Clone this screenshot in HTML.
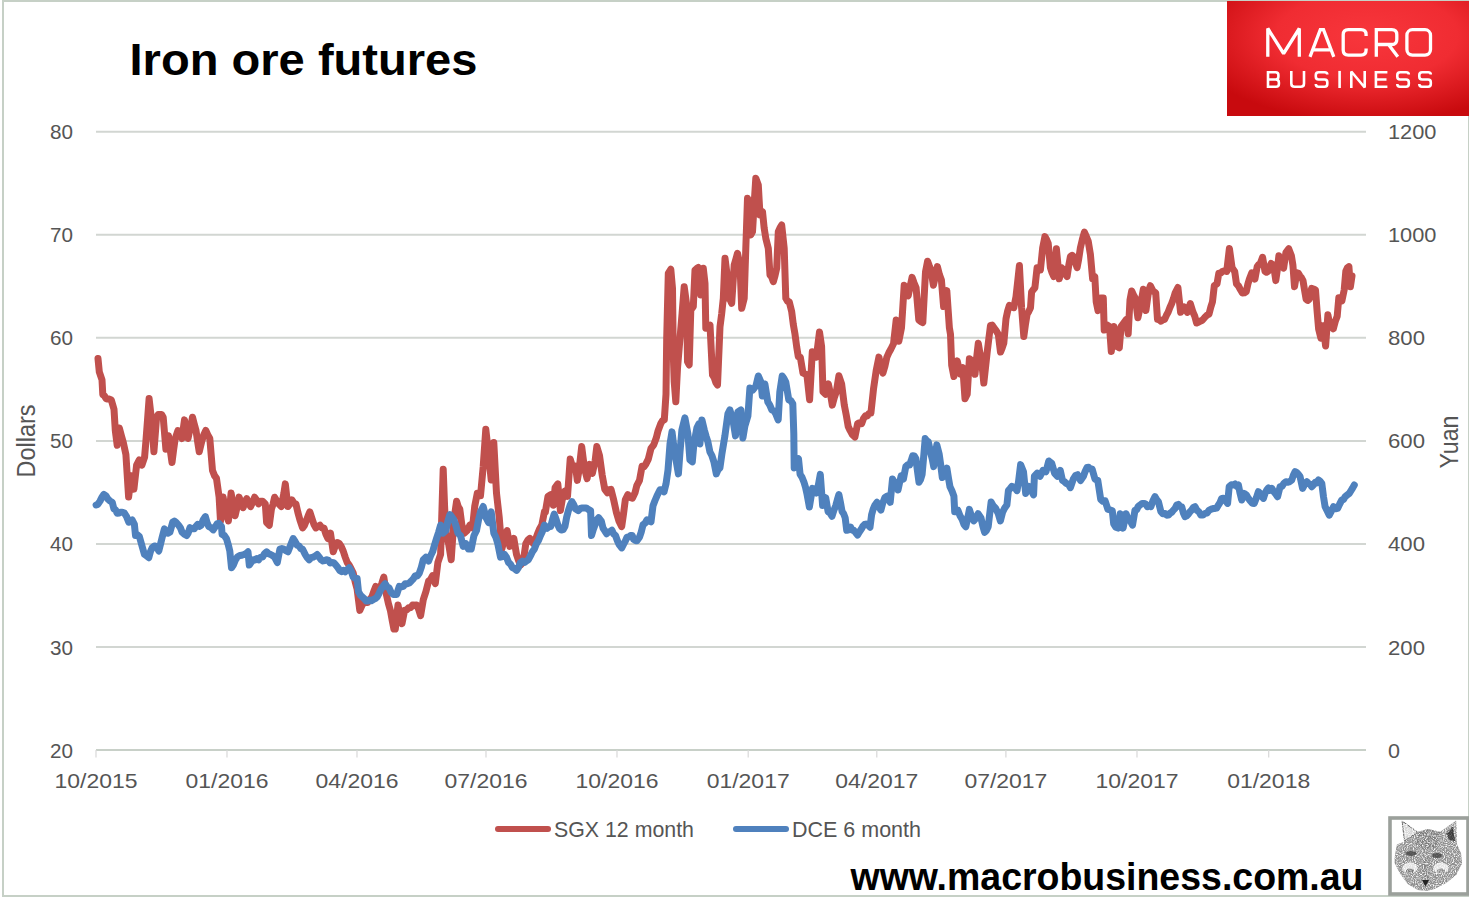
<!DOCTYPE html>
<html><head><meta charset="utf-8"><style>
html,body{margin:0;padding:0;background:#fff;width:1469px;height:901px;overflow:hidden;position:relative}
svg text{font-family:"Liberation Sans",sans-serif}
</style></head><body>
<svg width="1469" height="901" viewBox="0 0 1469 901" style="position:absolute;left:0;top:0">
<defs><radialGradient id="rg" cx="58%" cy="30%" r="75%"><stop offset="0" stop-color="#f8363c"/><stop offset="0.5" stop-color="#f02c32"/><stop offset="1" stop-color="#c80a0e"/></radialGradient></defs>
<rect x="3" y="1" width="1466" height="895" fill="none" stroke="#c6d0c6" stroke-width="2"/>
<line x1="96" y1="131.75" x2="1366" y2="131.75" stroke="#d2d6d2" stroke-width="2"/>
<line x1="96" y1="234.80" x2="1366" y2="234.80" stroke="#d2d6d2" stroke-width="2"/>
<line x1="96" y1="337.85" x2="1366" y2="337.85" stroke="#d2d6d2" stroke-width="2"/>
<line x1="96" y1="440.90" x2="1366" y2="440.90" stroke="#d2d6d2" stroke-width="2"/>
<line x1="96" y1="543.95" x2="1366" y2="543.95" stroke="#d2d6d2" stroke-width="2"/>
<line x1="96" y1="647.00" x2="1366" y2="647.00" stroke="#d2d6d2" stroke-width="2"/>
<line x1="96" y1="750" x2="1366" y2="750" stroke="#c8d0c8" stroke-width="2.2"/>
<line x1="96" y1="750" x2="96" y2="757.5" stroke="#d8d8d8" stroke-width="1.2"/>
<text x="96" y="788" font-size="21" text-anchor="middle" textLength="83" lengthAdjust="spacingAndGlyphs" fill="#555555">10/2015</text>
<line x1="227" y1="750" x2="227" y2="757.5" stroke="#d8d8d8" stroke-width="1.2"/>
<text x="227" y="788" font-size="21" text-anchor="middle" textLength="83" lengthAdjust="spacingAndGlyphs" fill="#555555">01/2016</text>
<line x1="357" y1="750" x2="357" y2="757.5" stroke="#d8d8d8" stroke-width="1.2"/>
<text x="357" y="788" font-size="21" text-anchor="middle" textLength="83" lengthAdjust="spacingAndGlyphs" fill="#555555">04/2016</text>
<line x1="486" y1="750" x2="486" y2="757.5" stroke="#d8d8d8" stroke-width="1.2"/>
<text x="486" y="788" font-size="21" text-anchor="middle" textLength="83" lengthAdjust="spacingAndGlyphs" fill="#555555">07/2016</text>
<line x1="617" y1="750" x2="617" y2="757.5" stroke="#d8d8d8" stroke-width="1.2"/>
<text x="617" y="788" font-size="21" text-anchor="middle" textLength="83" lengthAdjust="spacingAndGlyphs" fill="#555555">10/2016</text>
<line x1="748.2" y1="750" x2="748.2" y2="757.5" stroke="#d8d8d8" stroke-width="1.2"/>
<text x="748.2" y="788" font-size="21" text-anchor="middle" textLength="83" lengthAdjust="spacingAndGlyphs" fill="#555555">01/2017</text>
<line x1="876.8" y1="750" x2="876.8" y2="757.5" stroke="#d8d8d8" stroke-width="1.2"/>
<text x="876.8" y="788" font-size="21" text-anchor="middle" textLength="83" lengthAdjust="spacingAndGlyphs" fill="#555555">04/2017</text>
<line x1="1005.9" y1="750" x2="1005.9" y2="757.5" stroke="#d8d8d8" stroke-width="1.2"/>
<text x="1005.9" y="788" font-size="21" text-anchor="middle" textLength="83" lengthAdjust="spacingAndGlyphs" fill="#555555">07/2017</text>
<line x1="1137" y1="750" x2="1137" y2="757.5" stroke="#d8d8d8" stroke-width="1.2"/>
<text x="1137" y="788" font-size="21" text-anchor="middle" textLength="83" lengthAdjust="spacingAndGlyphs" fill="#555555">10/2017</text>
<line x1="1268.7" y1="750" x2="1268.7" y2="757.5" stroke="#d8d8d8" stroke-width="1.2"/>
<text x="1268.7" y="788" font-size="21" text-anchor="middle" textLength="83" lengthAdjust="spacingAndGlyphs" fill="#555555">01/2018</text>
<text x="73" y="139.25" font-size="20.5" text-anchor="end" textLength="23" lengthAdjust="spacingAndGlyphs" fill="#555555">80</text>
<text x="73" y="242.30" font-size="20.5" text-anchor="end" textLength="23" lengthAdjust="spacingAndGlyphs" fill="#555555">70</text>
<text x="73" y="345.35" font-size="20.5" text-anchor="end" textLength="23" lengthAdjust="spacingAndGlyphs" fill="#555555">60</text>
<text x="73" y="448.40" font-size="20.5" text-anchor="end" textLength="23" lengthAdjust="spacingAndGlyphs" fill="#555555">50</text>
<text x="73" y="551.45" font-size="20.5" text-anchor="end" textLength="23" lengthAdjust="spacingAndGlyphs" fill="#555555">40</text>
<text x="73" y="654.50" font-size="20.5" text-anchor="end" textLength="23" lengthAdjust="spacingAndGlyphs" fill="#555555">30</text>
<text x="73" y="757.55" font-size="20.5" text-anchor="end" textLength="23" lengthAdjust="spacingAndGlyphs" fill="#555555">20</text>
<text x="1388" y="139.25" font-size="20.5" textLength="48.5" lengthAdjust="spacingAndGlyphs" fill="#555555">1200</text>
<text x="1388" y="242.30" font-size="20.5" textLength="48.5" lengthAdjust="spacingAndGlyphs" fill="#555555">1000</text>
<text x="1388" y="345.35" font-size="20.5" textLength="37" lengthAdjust="spacingAndGlyphs" fill="#555555">800</text>
<text x="1388" y="448.40" font-size="20.5" textLength="37" lengthAdjust="spacingAndGlyphs" fill="#555555">600</text>
<text x="1388" y="551.45" font-size="20.5" textLength="37" lengthAdjust="spacingAndGlyphs" fill="#555555">400</text>
<text x="1388" y="654.50" font-size="20.5" textLength="37" lengthAdjust="spacingAndGlyphs" fill="#555555">200</text>
<text x="1388" y="757.55" font-size="20.5" textLength="12" lengthAdjust="spacingAndGlyphs" fill="#555555">0</text>
<text transform="translate(34.6,441) rotate(-90)" font-size="25" text-anchor="middle" textLength="73" lengthAdjust="spacingAndGlyphs" fill="#555555">Dollars</text>
<text transform="translate(1457.8,442) rotate(-90)" font-size="25" text-anchor="middle" textLength="53" lengthAdjust="spacingAndGlyphs" fill="#555555">Yuan</text>
<text x="129.5" y="74.8" font-size="44.7" font-weight="bold" textLength="348" lengthAdjust="spacingAndGlyphs" fill="#000">Iron ore futures</text>
<line x1="498" y1="829" x2="548" y2="829" stroke="#c0504d" stroke-width="6" stroke-linecap="round"/>
<text x="554" y="836.6" font-size="22" textLength="140" lengthAdjust="spacingAndGlyphs" fill="#555555">SGX 12 month</text>
<line x1="736" y1="829" x2="786" y2="829" stroke="#4f81bd" stroke-width="6" stroke-linecap="round"/>
<text x="792" y="836.6" font-size="22" textLength="129" lengthAdjust="spacingAndGlyphs" fill="#555555">DCE 6 month</text>
<text x="850.5" y="889.6" font-size="38" font-weight="bold" textLength="513" lengthAdjust="spacingAndGlyphs" fill="#000">www.macrobusiness.com.au</text>
<rect x="1227" y="1" width="242" height="115" fill="url(#rg)"/>
<g fill="none" stroke="#fff" stroke-width="3.3" stroke-linejoin="miter" stroke-linecap="butt">
<path stroke-linejoin="bevel" d="M1267.8,56.8 V28.5 L1283.6,53.5 L1299.3,28.5 V56.8"/>
<path d="M1310,56.8 L1320.3,29.7 H1323.5 L1333.8,56.8 M1313.5,49.8 H1330.5"/>
<path d="M1366.1,36 V34.7 Q1366.1,29.7 1361,29.7 H1348.3 Q1343.2,29.7 1343.2,34.8 V50 Q1343.2,55.1 1348.3,55.1 H1361 Q1366.1,55.1 1366.1,50 V48.6"/>
<path d="M1376.3,56.8 V29.7 H1391.8 Q1396.8,29.7 1396.8,34.7 V39.5 Q1396.8,44.5 1391.8,44.5 H1376.3 M1388.5,44.5 L1397.8,56.8"/>
<rect x="1406.9" y="29.7" width="23.6" height="25.4" rx="5.5"/>
</g>
<g fill="none" stroke="#fff" stroke-width="2.6" stroke-linejoin="miter" stroke-linecap="butt">
<path d="M1268,88 V72.2 H1275.6 Q1278.4,72.2 1278.4,75 V76.8 Q1278.4,79.5 1275.6,79.5 H1268 M1275.6,79.5 Q1278.9,79.5 1278.9,82.4 V83.9 Q1278.9,86.7 1276,86.7 H1268"/>
<path d="M1291.3,70.9 V83.4 Q1291.3,86.7 1294.6,86.7 H1300.7 Q1304,86.7 1304,83.4 V70.9"/>
<g id="ss"><path d="M1327.3,74.6 Q1327.3,72.2 1324.6,72.2 H1318.6 Q1315.8,72.2 1315.8,75 V76.8 Q1315.8,79.5 1318.6,79.5 H1324.6 Q1327.3,79.5 1327.3,82.3 V84 Q1327.3,86.7 1324.6,86.7 H1318.4 Q1315.8,86.7 1315.8,84"/></g>
<path d="M1339.6,70.9 V88"/>
<path stroke-linejoin="bevel" d="M1351.3,88 V71.5 L1364.7,87.5 V70.9"/>
<path d="M1387.4,72.2 H1375.9 V86.7 H1387.4 M1375.9,79.5 H1386.5"/>
<use href="#ss" x="81.5"/><use href="#ss" x="103.5"/>
</g>
<rect x="1390" y="818" width="78" height="76" fill="#fff" stroke="#9ba09b" stroke-width="3.6"/>
<defs><filter id="fn" x="0" y="0" width="1" height="1"><feTurbulence type="fractalNoise" baseFrequency="0.9" numOctaves="1" seed="4" result="n"/><feColorMatrix in="n" type="matrix" values="0 0 0 0 0  0 0 0 0 0  0 0 0 0 0  0 0 0 -3 2.25" result="m"/><feComposite in="SourceGraphic" in2="m" operator="in"/></filter></defs>
<g filter="url(#fn)">
<path d="M1396.9,844.6 L1393.9,861.4 L1399.8,873.3 L1407.7,884.1 L1417.6,890.1 L1426.5,891 L1434.4,889.1 L1446.3,883.1 L1456.1,875.2 L1462.1,863.4 L1461.1,853.5 L1457.1,844.6 L1456.1,820.4 L1440.3,831.8 L1428,829 L1417.6,831.8 L1401.8,820.4 L1404.8,841.6 Z" fill="#8e8e8e"/>
<path d="M1402,821 L1404.5,841 L1417.5,832 Z" fill="#d6d6d6" stroke="#666" stroke-width="1"/>
<path d="M1456,821 L1441,832 L1446,840 L1457,844 Z" fill="#9a9a9a"/>
<path d="M1453,826 L1446,833 L1449,840 L1455,842 Z" fill="#4a4a4a"/>
<path d="M1418,832 L1428,829 L1440,832 L1436,848 L1426,850 L1416,846 Z" fill="#7e7e7e"/>
<path d="M1421,858 L1431,858 L1429,878 L1423,878 Z" fill="#848484"/>
<ellipse cx="1410" cy="868" rx="7.5" ry="5.5" fill="#e2e2e2"/>
<ellipse cx="1441" cy="868" rx="7.5" ry="5.5" fill="#e2e2e2"/>
<ellipse cx="1410" cy="871" rx="4" ry="2.5" fill="#777"/>
<ellipse cx="1441" cy="871" rx="4" ry="2.5" fill="#888"/>
</g>
<ellipse cx="1411" cy="853.5" rx="5.5" ry="2.5" fill="#444" opacity="0.8"/>
<ellipse cx="1437" cy="855.5" rx="5" ry="2.5" fill="#444" opacity="0.8"/>
<path d="M1422,880 L1429,880 L1425.5,886.5 Z" fill="#222"/>
<path d="M1453,828 L1447,834 L1450,840 L1455,841 Z" fill="#333" opacity="0.7"/>
<path d="M98.0,358.6 L99.3,371.9 L102.0,379.9 L102.8,394.6 L104.4,395.8 L106.0,398.6 L107.7,399.1 L109.5,399.1 L111.3,399.9 L114.0,409.2 L115.3,430.5 L117.2,445.2 L119.3,427.9 L121.3,435.5 L123.3,442.5 L125.9,454.5 L128.6,497.1 L131.3,475.8 L133.9,489.1 L136.6,465.1 L139.3,459.8 L141.9,465.1 L144.6,457.1 L145.9,441.2 L147.5,420.2 L149.1,398.6 L151.8,422.5 L153.9,451.8 L156.6,417.2 L158.2,414.6 L159.8,414.5 L161.5,414.4 L163.2,417.2 L165.9,449.2 L168.5,435.8 L170.3,450.2 L172.0,462.5 L173.6,449.8 L175.2,438.5 L177.9,430.5 L179.9,433.7 L181.9,438.5 L184.5,419.9 L186.2,430.7 L188.0,438.5 L189.5,431.3 L191.0,425.3 L192.5,417.2 L194.2,423.8 L196.0,430.5 L197.6,441.6 L199.2,451.8 L201.8,441.2 L203.8,434.8 L205.8,430.5 L207.8,434.9 L209.8,438.5 L212.5,470.5 L214.5,475.6 L216.5,478.4 L219.1,497.1 L220.5,521.0 L223.1,497.1 L225.8,513.1 L228.4,521.0 L231.1,493.1 L233.1,504.5 L235.1,515.7 L237.1,507.1 L239.1,497.1 L241.1,502.9 L243.1,507.7 L244.9,501.8 L246.7,498.6 L248.7,503.3 L250.6,506.6 L252.6,502.2 L254.6,497.2 L256.6,500.0 L258.6,503.9 L260.6,501.2 L262.6,501.2 L265.3,503.9 L266.6,522.5 L269.3,525.2 L271.4,509.2 L273.0,504.3 L274.6,497.2 L276.6,500.5 L278.6,503.9 L281.3,506.6 L283.9,493.2 L285.3,483.9 L287.9,506.6 L289.9,503.9 L291.9,499.9 L293.9,503.0 L295.9,503.9 L297.9,512.5 L299.9,519.9 L302.6,527.9 L304.6,525.1 L306.6,519.9 L308.2,515.6 L309.8,511.9 L312.4,519.9 L314.1,524.8 L315.9,527.9 L317.9,526.4 L319.9,525.2 L321.9,527.8 L323.9,527.9 L325.9,534.3 L327.9,538.5 L330.5,533.2 L333.2,551.8 L335.2,546.0 L337.2,542.5 L339.2,543.4 L341.2,546.5 L343.2,551.0 L345.2,557.1 L347.2,562.5 L349.2,565.1 L351.2,568.9 L353.2,573.1 L355.1,581.5 L357.1,589.1 L359.8,610.4 L361.8,605.8 L363.8,602.4 L365.8,602.4 L367.8,602.4 L369.8,599.4 L371.8,597.1 L373.8,591.3 L375.8,586.4 L377.8,588.0 L379.8,589.1 L381.8,583.4 L383.8,577.1 L386.4,594.4 L388.4,603.6 L390.4,610.4 L392.2,620.3 L393.9,629.0 L395.3,629.0 L398.0,605.0 L400.0,615.6 L402.0,623.6 L404.6,610.3 L406.6,610.1 L408.6,607.7 L410.6,607.8 L412.6,605.0 L414.6,605.5 L416.6,605.0 L418.6,609.3 L420.6,615.7 L423.3,599.7 L425.9,591.7 L428.6,581.0 L430.6,579.5 L432.6,575.7 L435.3,583.7 L437.9,562.4 L440.6,554.4 L443.2,469.2 L444.6,506.5 L445.9,533.1 L448.6,543.8 L451.2,559.7 L453.9,519.8 L456.6,501.2 L458.2,506.6 L459.8,509.2 L461.9,525.1 L464.5,533.1 L467.2,530.5 L469.9,525.1 L472.5,527.8 L474.7,506.5 L477.3,493.2 L478.9,495.7 L480.5,495.8 L483.2,466.6 L485.8,429.3 L488.5,453.2 L491.2,479.9 L493.8,442.6 L496.5,493.2 L499.2,517.1 L501.8,549.1 L504.5,538.4 L507.1,530.5 L509.8,546.4 L511.8,542.6 L513.8,538.4 L516.5,554.4 L518.5,560.4 L520.5,565.1 L523.1,562.4 L525.8,543.8 L527.8,540.2 L529.8,538.4 L531.8,542.1 L533.8,543.8 L535.8,538.7 L537.8,533.1 L539.8,528.5 L541.8,525.1 L544.4,511.8 L545.3,512.4 L548.0,496.4 L550.7,494.6 L553.3,505.3 L555.1,487.5 L557.8,483.9 L560.4,510.6 L562.2,499.9 L564.9,491.0 L567.5,496.4 L570.2,459.1 L572.9,468.0 L575.5,466.2 L577.3,480.4 L579.1,469.7 L581.7,446.6 L584.4,468.0 L587.1,478.6 L589.7,464.4 L592.4,473.3 L595.1,460.9 L596.8,446.6 L599.5,455.5 L602.2,475.1 L604.8,489.3 L607.5,492.8 L609.3,489.7 L611.0,489.3 L613.7,499.9 L616.4,512.4 L619.0,521.2 L621.7,526.6 L623.5,514.1 L625.3,499.9 L627.9,494.6 L630.1,497.4 L632.4,498.2 L635.0,492.8 L636.8,485.7 L639.5,480.4 L642.1,466.2 L643.9,466.8 L645.7,464.4 L648.3,459.1 L651.0,448.4 L653.7,444.9 L656.3,437.8 L658.1,430.7 L660.8,423.6 L662.6,420.5 L664.3,420.0 L666.0,394.3 L666.7,338.3 L668.3,273.3 L670.8,269.2 L672.5,288.3 L673.3,355.0 L674.2,381.7 L675.8,401.7 L677.5,368.3 L680.0,338.3 L682.1,313.4 L684.2,286.7 L686.7,305.0 L687.5,361.7 L689.2,365.0 L690.8,310.0 L693.3,306.7 L695.0,270.0 L696.7,268.5 L698.3,267.5 L700.8,295.0 L703.3,268.3 L705.0,283.3 L705.8,328.3 L707.9,325.6 L710.0,325.0 L712.5,375.0 L714.2,377.7 L715.8,382.5 L717.5,385.0 L720.0,326.7 L721.7,313.6 L723.3,298.3 L725.0,258.3 L726.7,271.7 L728.3,298.3 L730.0,299.5 L731.7,303.3 L734.2,265.0 L735.8,259.5 L737.5,253.3 L740.0,265.0 L741.7,308.3 L744.2,298.3 L745.8,248.3 L747.5,198.3 L749.2,201.7 L750.8,235.0 L752.5,231.7 L754.2,203.3 L755.8,178.3 L758.3,185.0 L760.0,215.0 L762.5,211.7 L764.2,228.3 L765.8,238.3 L768.3,248.3 L770.0,275.0 L771.7,277.0 L773.3,281.7 L775.0,275.7 L776.7,268.3 L778.3,231.7 L780.0,227.8 L781.7,225.0 L784.2,248.3 L785.8,298.3 L787.5,301.1 L789.2,301.7 L791.7,311.7 L793.3,324.4 L795.0,334.2 L796.7,346.9 L798.3,356.7 L800.3,357.1 L803.0,373.1 L805.0,373.9 L807.0,375.8 L809.6,399.7 L812.3,351.8 L814.3,353.2 L816.3,357.1 L817.9,344.8 L819.5,331.9 L821.6,346.5 L823.0,391.8 L825.6,394.4 L828.3,383.8 L830.3,393.0 L832.3,405.1 L834.3,397.5 L836.3,391.8 L838.9,375.8 L841.6,383.8 L844.3,405.1 L846.3,415.4 L848.2,426.4 L850.2,430.7 L852.2,434.4 L854.9,437.0 L857.6,423.7 L859.6,422.7 L861.6,423.7 L863.6,418.3 L865.6,415.7 L867.3,415.9 L869.1,413.4 L870.9,413.1 L873.5,389.1 L876.2,370.5 L878.9,357.1 L880.9,366.5 L882.9,373.1 L884.9,366.3 L886.9,357.1 L888.8,352.8 L890.8,349.2 L893.5,343.8 L896.2,319.9 L898.8,341.2 L901.5,327.9 L904.2,285.3 L906.2,290.5 L908.2,295.9 L910.1,286.7 L912.1,277.3 L914.1,283.0 L916.1,287.9 L918.8,319.9 L920.8,321.5 L922.8,322.5 L925.5,271.9 L927.6,261.3 L929.2,265.5 L930.8,269.3 L933.4,285.3 L935.4,276.3 L937.4,266.6 L939.4,274.6 L941.4,279.9 L943.6,306.6 L945.2,298.6 L946.8,290.6 L949.4,327.9 L950.5,334.3 L951.7,365.4 L953.9,376.5 L955.5,368.5 L957.2,360.9 L958.9,368.3 L960.5,374.3 L962.8,367.6 L965.0,398.7 L967.2,394.2 L969.4,358.7 L971.1,360.2 L972.7,363.2 L975.0,374.3 L976.6,358.1 L978.3,343.2 L980.0,353.5 L981.6,360.9 L983.8,383.1 L985.5,367.7 L987.2,352.1 L988.8,338.9 L990.5,325.4 L992.2,325.1 L993.8,327.6 L996.1,330.7 L998.3,334.3 L1000.5,352.1 L1002.2,347.9 L1003.8,343.2 L1006.0,318.8 L1007.7,310.7 L1009.4,305.4 L1011.6,306.9 L1013.8,307.7 L1016.0,296.6 L1017.7,281.4 L1019.4,265.5 L1021.6,307.7 L1023.8,336.5 L1025.5,324.1 L1027.1,314.3 L1028.8,311.4 L1030.5,307.7 L1031.6,292.1 L1033.2,289.8 L1034.9,287.7 L1037.1,267.7 L1038.8,269.4 L1040.4,269.9 L1042.7,247.7 L1044.9,236.6 L1046.6,239.5 L1048.2,243.3 L1050.4,267.7 L1052.1,272.8 L1053.8,276.6 L1056.4,248.8 L1059.3,278.8 L1061.5,267.7 L1063.8,269.9 L1065.4,274.0 L1067.1,276.6 L1068.8,265.2 L1070.4,256.6 L1072.1,255.3 L1073.7,256.6 L1075.4,262.7 L1077.1,267.7 L1078.7,259.1 L1080.4,247.7 L1082.4,239.2 L1084.4,232.2 L1086.3,236.5 L1088.2,241.1 L1090.4,254.4 L1092.6,278.8 L1094.8,276.6 L1096.2,301.7 L1098.0,310.6 L1100.7,298.1 L1103.3,298.1 L1104.2,330.1 L1106.9,324.8 L1109.5,326.6 L1111.3,351.4 L1114.0,326.6 L1116.6,346.1 L1119.3,347.9 L1121.1,326.6 L1123.7,323.0 L1126.4,319.4 L1128.2,333.7 L1130.0,299.9 L1131.7,291.0 L1133.5,294.9 L1135.3,298.1 L1137.9,317.7 L1140.6,305.2 L1143.3,289.3 L1145.9,310.6 L1148.6,291.0 L1150.4,285.7 L1153.0,291.0 L1155.7,292.8 L1157.5,319.4 L1159.3,319.8 L1161.0,321.2 L1162.8,319.9 L1164.6,319.4 L1166.4,315.3 L1168.1,312.3 L1169.9,307.5 L1171.7,303.5 L1173.5,298.4 L1175.2,292.8 L1177.9,287.5 L1180.6,312.3 L1182.3,309.1 L1184.1,307.0 L1185.7,309.3 L1187.3,312.3 L1188.8,308.7 L1190.3,303.5 L1193.0,312.3 L1194.8,316.3 L1196.6,323.0 L1198.3,322.3 L1200.1,321.2 L1202.3,320.2 L1204.5,317.7 L1206.8,315.3 L1209.0,314.1 L1210.8,307.1 L1212.5,301.7 L1214.3,285.7 L1217.0,283.9 L1218.8,273.3 L1220.5,273.3 L1222.3,271.5 L1224.5,270.7 L1226.7,271.5 L1229.4,248.4 L1232.1,267.9 L1234.7,271.5 L1236.5,283.9 L1238.5,286.0 L1240.5,289.8 L1242.4,293.0 L1244.4,292.8 L1246.3,291.5 L1247.9,284.1 L1249.4,279.0 L1251.8,272.8 L1253.3,275.4 L1254.9,279.0 L1257.2,266.6 L1258.7,264.6 L1260.3,263.5 L1262.6,257.3 L1265.0,271.3 L1266.5,272.3 L1268.1,271.3 L1269.6,267.2 L1271.2,263.5 L1273.5,265.1 L1275.8,280.6 L1277.4,269.2 L1278.9,255.7 L1281.3,263.5 L1283.6,268.2 L1285.9,252.6 L1288.7,248.7 L1291.4,255.7 L1292.9,265.1 L1294.5,286.8 L1296.8,272.8 L1298.4,273.4 L1299.9,275.9 L1301.5,277.8 L1303.0,280.6 L1304.6,290.4 L1306.1,299.2 L1307.7,300.4 L1309.2,299.2 L1311.6,288.4 L1313.5,289.0 L1315.5,289.9 L1317.0,310.1 L1318.6,328.8 L1320.9,338.1 L1323.2,325.7 L1325.6,345.9 L1327.9,314.8 L1330.2,327.2 L1331.8,327.2 L1333.3,328.8 L1335.3,321.4 L1337.2,316.3 L1338.8,297.7 L1340.3,299.3 L1341.9,300.8 L1344.2,289.9 L1345.8,271.3 L1347.3,268.0 L1348.9,266.6 L1350.4,286.8 L1352.0,275.9" fill="none" stroke="#c0504d" stroke-width="7" stroke-linejoin="round" stroke-linecap="round"/><path d="M96.1,505.0 L97.8,504.4 L100.0,501.1 L101.9,497.2 L103.9,494.4 L105.8,495.6 L107.8,498.9 L110.0,501.0 L112.2,502.2 L113.9,508.9 L115.5,509.8 L117.2,513.3 L118.9,513.0 L120.5,512.2 L122.2,512.2 L124.4,513.1 L126.6,516.6 L128.8,522.2 L130.5,521.1 L132.2,520.0 L134.4,524.4 L135.5,535.5 L137.4,534.7 L139.4,536.6 L142.2,546.6 L144.4,554.4 L146.6,555.8 L148.8,557.7 L150.5,551.4 L152.2,547.7 L154.4,545.9 L156.6,546.6 L158.8,551.0 L160.5,544.1 L162.1,537.7 L164.4,528.8 L166.0,532.0 L167.7,533.3 L169.9,532.2 L172.7,522.2 L174.4,521.0 L176.0,522.2 L178.8,525.5 L180.5,528.0 L182.1,532.2 L184.3,534.2 L186.6,535.5 L188.2,533.0 L189.9,527.7 L192.1,528.5 L194.3,528.8 L196.0,526.3 L197.7,524.4 L199.3,526.4 L201.0,525.5 L203.2,519.7 L205.4,516.6 L207.1,522.7 L208.8,526.6 L211.0,527.6 L213.2,529.9 L215.4,526.6 L217.1,523.9 L218.7,523.3 L221.5,526.6 L222.1,534.4 L224.3,535.5 L226.5,538.8 L228.2,544.4 L229.8,551.0 L231.5,567.7 L233.5,564.7 L235.4,559.9 L237.6,556.7 L239.8,555.5 L241.9,555.2 L244.0,554.5 L246.0,553.6 L248.0,551.8 L249.3,565.1 L251.3,562.1 L253.3,559.8 L255.1,560.0 L256.9,558.5 L258.6,559.8 L260.6,557.2 L262.6,557.1 L264.6,553.6 L266.6,551.8 L268.6,553.7 L270.6,554.5 L272.6,555.6 L274.6,557.1 L277.3,562.5 L279.9,549.2 L281.9,548.6 L283.9,549.2 L285.9,550.7 L287.9,551.8 L290.6,545.2 L293.2,538.5 L295.2,541.7 L297.2,545.2 L299.0,545.9 L300.8,548.7 L302.6,549.2 L305.2,554.5 L307.2,557.7 L309.2,559.8 L311.2,557.7 L313.2,557.1 L315.2,556.0 L317.2,554.5 L319.2,557.2 L321.2,559.8 L323.0,560.9 L324.8,560.5 L326.5,559.8 L328.3,560.1 L330.1,563.0 L331.9,562.5 L333.8,562.7 L335.8,565.1 L337.8,567.5 L339.8,570.5 L341.6,571.7 L343.4,570.3 L345.2,571.8 L347.2,569.8 L349.2,567.8 L351.2,571.1 L353.2,577.1 L355.1,578.3 L357.1,578.4 L358.5,591.8 L360.5,595.2 L362.5,597.1 L364.2,598.6 L366.0,600.9 L367.8,601.1 L369.6,600.1 L371.3,600.8 L373.1,599.7 L375.1,598.7 L377.1,597.1 L379.1,593.3 L381.1,589.1 L383.1,586.3 L385.1,583.8 L387.1,586.8 L389.1,587.8 L391.1,592.4 L393.1,594.4 L394.9,594.3 L396.7,594.4 L399.3,586.4 L401.3,586.9 L403.3,586.4 L405.3,583.7 L407.3,583.7 L409.3,583.0 L411.3,581.0 L413.3,578.8 L415.3,575.7 L417.3,575.9 L419.3,573.1 L421.3,567.4 L423.3,559.7 L425.9,557.1 L428.6,561.1 L430.6,555.8 L432.6,551.8 L434.6,544.8 L436.6,538.4 L438.6,532.3 L440.6,525.1 L443.2,533.1 L445.9,530.5 L447.9,521.0 L449.9,514.5 L451.9,517.0 L453.9,519.8 L455.9,525.5 L457.9,533.1 L460.6,535.8 L463.2,546.4 L465.9,543.8 L468.5,549.1 L471.2,549.1 L473.9,535.8 L476.5,530.5 L478.5,520.0 L480.5,511.8 L483.2,506.5 L485.8,517.1 L488.5,522.5 L491.2,511.8 L493.8,533.1 L495.8,537.1 L497.8,543.8 L500.5,557.1 L502.5,556.6 L504.5,554.4 L506.5,557.3 L508.5,562.4 L510.5,564.3 L512.5,567.7 L514.5,568.7 L516.5,570.4 L518.5,567.5 L520.5,562.4 L522.5,561.1 L524.5,562.4 L526.4,560.9 L528.4,559.7 L530.4,555.9 L532.4,551.8 L534.4,548.9 L536.4,543.8 L538.4,540.7 L540.4,535.8 L542.4,531.5 L544.4,525.1 L547.1,528.3 L548.9,526.8 L550.7,526.6 L552.4,520.1 L554.2,514.1 L556.0,519.0 L557.8,524.8 L559.5,528.6 L561.3,530.1 L563.1,529.7 L564.9,526.6 L566.6,517.5 L568.4,510.6 L570.2,505.2 L572.0,501.7 L573.7,504.5 L575.5,508.8 L578.2,510.6 L580.4,508.5 L582.6,507.9 L584.4,507.9 L586.2,507.9 L588.4,509.5 L590.6,510.6 L591.5,535.5 L593.3,529.4 L595.1,524.8 L596.8,519.8 L598.6,517.7 L601.3,521.2 L603.1,528.3 L604.8,530.8 L606.6,533.7 L608.4,532.1 L610.2,531.5 L611.9,530.1 L613.7,534.1 L615.5,535.5 L617.3,540.5 L619.0,544.3 L621.7,547.9 L623.5,544.4 L625.3,541.1 L627.0,537.2 L628.8,536.9 L630.6,535.5 L632.1,535.4 L633.7,539.3 L635.2,540.3 L636.8,540.8 L639.5,537.2 L641.2,532.1 L643.0,524.8 L645.0,523.2 L647.0,519.8 L649.0,520.5 L651.0,521.8 L653.0,505.8 L655.0,500.5 L657.0,495.8 L660.0,489.8 L662.0,489.7 L664.0,491.8 L666.0,483.9 L668.0,469.9 L670.0,443.9 L672.0,431.9 L674.0,447.9 L676.0,459.9 L678.4,473.9 L680.0,451.9 L681.9,429.9 L684.9,417.9 L687.9,433.9 L689.9,459.9 L692.3,461.9 L693.9,443.9 L696.9,427.9 L698.9,423.9 L699.9,443.9 L701.9,419.9 L704.3,429.9 L706.1,436.3 L707.9,441.9 L709.9,451.9 L711.9,455.6 L713.9,461.9 L716.3,473.9 L718.1,469.6 L719.9,467.9 L721.9,453.9 L724.9,435.9 L727.9,413.9 L729.9,409.9 L732.9,419.9 L735.5,435.9 L737.9,411.9 L740.9,409.9 L742.9,437.9 L744.9,425.9 L747.9,415.9 L749.9,388.0 L752.9,390.0 L755.9,386.0 L758.3,376.0 L760.9,382.0 L762.3,396.0 L764.9,384.0 L767.8,401.9 L769.8,405.1 L771.8,409.9 L773.8,410.9 L775.8,413.9 L778.2,419.9 L779.8,392.0 L782.2,376.0 L784.0,378.5 L785.8,382.0 L788.8,400.0 L790.8,400.6 L792.8,403.9 L793.8,433.9 L794.2,467.9 L795.4,465.1 L797.0,460.5 L798.5,458.8 L800.1,474.4 L802.0,477.2 L804.0,482.2 L805.5,487.2 L807.1,494.6 L809.4,507.0 L811.0,497.3 L812.5,488.4 L814.5,489.3 L816.4,493.0 L818.4,484.8 L820.3,474.4 L822.6,505.5 L824.2,501.9 L825.7,497.7 L828.1,511.7 L830.0,512.9 L832.0,516.3 L833.9,510.2 L835.8,505.5 L837.4,499.6 L838.9,494.6 L840.5,502.7 L842.1,511.7 L843.6,513.6 L845.2,517.9 L846.7,530.3 L848.7,529.8 L850.6,527.2 L852.2,530.2 L853.7,530.3 L855.6,532.5 L857.6,535.0 L859.5,531.8 L861.5,528.8 L863.0,526.0 L864.6,524.5 L866.1,524.1 L868.1,525.2 L870.0,527.2 L871.6,514.8 L873.1,509.4 L874.7,505.5 L877.0,502.3 L879.0,507.2 L880.9,510.1 L882.8,502.9 L884.8,497.7 L887.1,496.1 L888.7,497.8 L890.2,502.3 L892.5,479.0 L894.1,481.9 L895.7,482.2 L898.0,489.9 L899.5,483.0 L901.1,475.9 L903.4,479.0 L905.8,466.6 L907.7,464.8 L909.6,465.1 L911.2,460.5 L912.7,455.7 L914.3,455.9 L915.9,458.8 L917.4,470.6 L919.0,482.2 L920.5,479.7 L922.1,474.4 L923.6,457.6 L925.2,438.6 L926.7,440.8 L928.3,441.8 L930.6,452.6 L932.2,458.9 L933.7,466.6 L935.3,455.3 L936.8,444.9 L939.2,454.2 L940.7,464.8 L942.3,477.5 L943.8,475.2 L945.4,471.4 L946.9,468.2 L948.5,478.3 L950.0,486.8 L952.0,491.0 L953.9,496.1 L954.7,511.7 L956.3,510.1 L957.8,510.1 L960.0,515.7 L962.2,519.5 L964.0,524.5 L965.8,526.7 L968.0,516.6 L969.4,509.4 L971.6,516.6 L973.8,520.9 L975.9,518.3 L978.1,513.7 L981.0,518.0 L982.8,526.1 L984.6,532.4 L986.4,530.5 L988.2,526.7 L991.1,502.1 L993.2,505.7 L995.4,507.9 L998.3,513.7 L1000.4,520.9 L1002.6,512.2 L1004.8,507.8 L1006.9,505.0 L1008.4,490.6 L1010.2,488.5 L1012.0,486.3 L1014.9,487.7 L1017.0,490.6 L1018.5,481.9 L1020.6,464.6 L1023.5,471.8 L1025.7,493.5 L1028.6,486.3 L1031.5,490.6 L1033.6,494.9 L1034.4,476.2 L1037.2,473.3 L1040.1,476.2 L1043.0,470.4 L1045.9,471.8 L1048.8,461.0 L1051.7,463.2 L1054.6,473.3 L1057.4,476.2 L1060.3,470.4 L1062.5,480.5 L1064.3,481.5 L1066.1,483.4 L1068.3,484.1 L1070.4,487.7 L1073.3,479.1 L1075.5,475.5 L1077.6,474.7 L1080.5,480.5 L1083.4,476.2 L1085.2,471.2 L1087.0,467.5 L1088.7,467.3 L1090.4,469.1 L1092.1,469.0 L1095.0,479.1 L1097.8,480.5 L1100.7,499.3 L1102.9,501.3 L1105.1,500.7 L1107.9,509.4 L1110.1,509.9 L1112.3,510.8 L1113.7,523.8 L1115.9,527.3 L1118.0,528.1 L1120.2,513.7 L1123.1,528.1 L1126.0,513.7 L1127.8,518.0 L1129.6,519.5 L1132.5,525.1 L1135.0,510.1 L1136.7,509.8 L1138.3,506.3 L1140.0,505.1 L1142.1,503.4 L1144.2,503.4 L1145.8,504.2 L1147.5,506.7 L1149.2,505.8 L1150.9,506.7 L1152.9,500.8 L1155.0,496.7 L1156.7,499.6 L1158.4,501.7 L1160.9,511.7 L1162.9,513.8 L1165.0,513.4 L1166.7,515.2 L1168.4,515.1 L1170.0,513.3 L1171.7,512.2 L1173.4,510.1 L1175.0,508.5 L1176.7,505.1 L1178.4,504.4 L1180.0,506.6 L1181.7,506.7 L1183.4,513.0 L1185.0,516.7 L1186.7,515.9 L1188.4,514.1 L1190.0,511.7 L1191.7,510.0 L1193.4,507.4 L1195.0,506.7 L1197.0,510.4 L1198.9,511.8 L1200.9,515.1 L1203.0,515.1 L1205.1,513.4 L1207.1,513.1 L1209.2,510.1 L1211.2,509.2 L1213.1,508.6 L1215.1,508.4 L1216.7,508.1 L1218.4,505.1 L1220.1,502.4 L1221.7,498.4 L1223.4,498.2 L1225.1,500.0 L1227.6,503.4 L1229.2,486.7 L1231.3,484.8 L1233.4,485.0 L1235.1,484.0 L1236.7,486.3 L1238.4,485.0 L1240.1,493.5 L1241.7,500.0 L1244.2,493.4 L1246.3,494.8 L1248.4,498.4 L1250.4,501.0 L1252.3,503.2 L1254.3,503.4 L1256.3,498.0 L1258.4,491.7 L1260.1,493.5 L1261.8,496.3 L1263.4,498.4 L1265.1,493.1 L1266.8,490.0 L1268.4,488.0 L1270.1,490.3 L1271.8,488.4 L1273.7,491.6 L1275.7,494.0 L1277.6,496.7 L1280.1,486.7 L1282.0,486.3 L1284.0,483.2 L1285.9,481.7 L1287.9,482.3 L1289.8,481.6 L1291.8,480.0 L1293.4,475.0 L1295.1,471.7 L1296.8,472.6 L1298.4,474.4 L1300.1,476.7 L1302.6,488.4 L1304.7,484.3 L1306.8,481.7 L1308.5,483.6 L1310.1,484.3 L1311.8,486.7 L1313.5,484.8 L1315.1,482.3 L1316.8,482.9 L1318.5,480.0 L1320.1,481.3 L1321.8,483.4 L1323.5,496.7 L1325.1,506.7 L1327.2,510.8 L1329.3,515.1 L1331.4,511.1 L1333.5,506.7 L1335.6,508.8 L1337.6,508.4 L1339.7,504.0 L1341.8,500.0 L1343.5,499.6 L1345.1,496.7 L1347.2,495.0 L1349.3,493.4 L1351.0,490.7 L1352.7,487.9 L1354.3,485.0" fill="none" stroke="#4f81bd" stroke-width="7" stroke-linejoin="round" stroke-linecap="round"/>
</svg>
</body></html>
